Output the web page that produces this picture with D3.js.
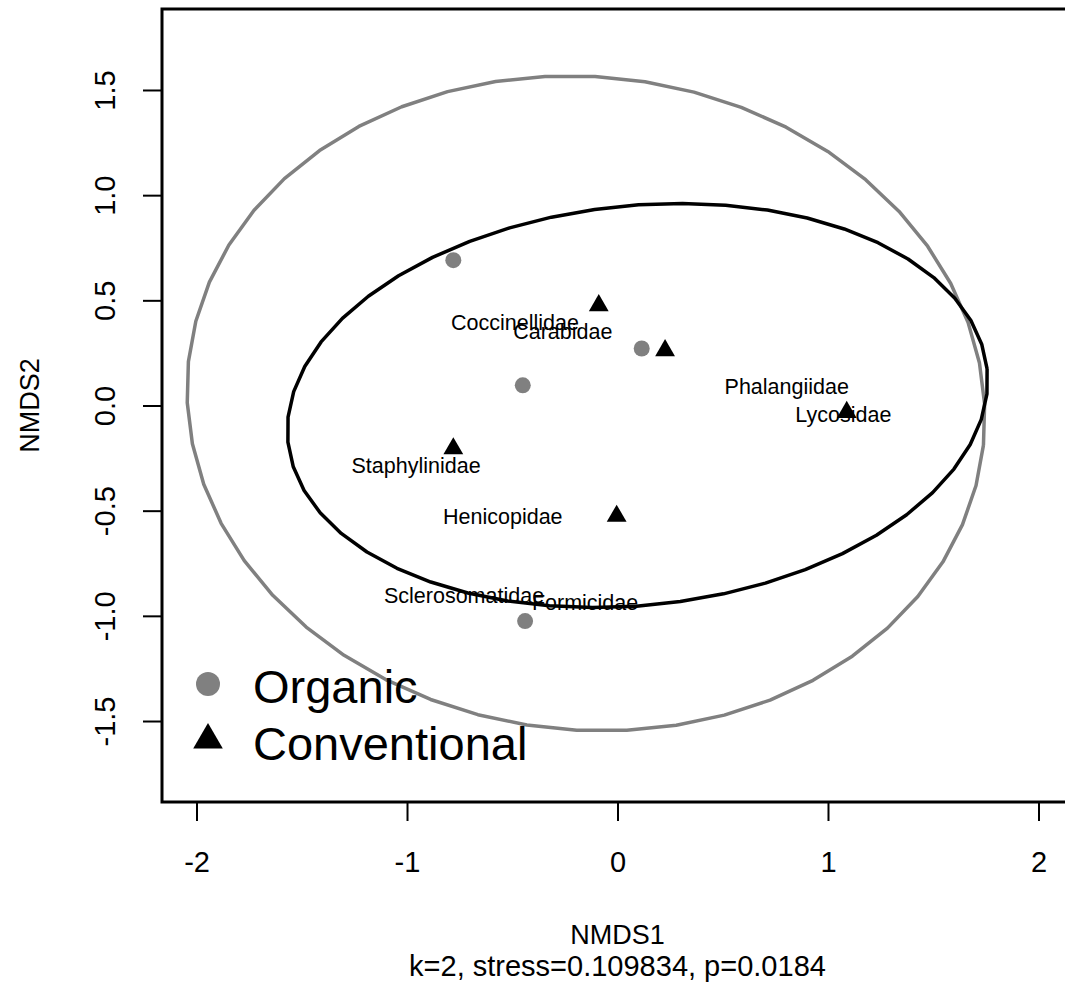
<!DOCTYPE html>
<html>
<head>
<meta charset="utf-8">
<script src="https://cdn.jsdelivr.net/npm/d3@7"></script>
<style>
  body { margin: 0; background: #fff; }
  svg { display: block; font-family: "Liberation Sans", Arial, sans-serif; }
</style>
</head>
<body>
<div id="chart"></div>
<script>
// site scores (NMDS1, NMDS2)
const organicX = [-0.780, -0.450, 0.115, -0.439];
const organicY = [0.691, 0.096, 0.271, -1.025];
const conventionalX = [-0.089, 0.226, -0.780, -0.004, 1.089];
const conventionalY = [0.480, 0.266, -0.200, -0.521, -0.027];

// family (species) scores
const familyNames = ['Coccinellidae', 'Carabidae', 'Phalangiidae', 'Lycosidae',
  'Staphylinidae', 'Henicopidae', 'Sclerosomatidae', 'Formicidae'];
const familyX = [-0.487, -0.260, 0.804, 1.073, -0.957, -0.545, -0.729, -0.154];
const familyY = [0.393, 0.350, 0.087, -0.046, -0.288, -0.531, -0.906, -0.938];

// group ellipses: centre, semi-axes, rotation (degrees)
const ellipseGroups = ['Organic', 'Conventional'];
const ellipseCx = [-0.150, 0.095];
const ellipseCy = [0.010, 0.000];
const ellipseA = [1.899, 1.670];
const ellipseB = [1.553, 0.950];
const ellipseAngle = [-6, 6];

const xTicks = [-2, -1, 0, 1, 2];
const yTicks = [-1.5, -1.0, -0.5, 0.0, 0.5, 1.0, 1.5];

const width = 1065, height = 1000;
const box = { left: 162, right: 1073, top: 9, bottom: 802 };
const grey = '#808080';

const svg = d3.select('#chart').append('svg')
  .attr('width', width)
  .attr('height', height);

const x = d3.scaleLinear().domain([-2.164, 2.164]).range([box.left, box.right]);
const y = d3.scaleLinear().domain([-1.885, 1.885]).range([box.bottom, box.top]);

// R style: plain hyphen for minus
const hyphen = f => d => f(d).replace('\u2212', '-');

// ellipses
const line = d3.line().x(d => x(d[0])).y(d => y(d[1]));
ellipseGroups.forEach((g, i) => {
  const t = ellipseAngle[i] * Math.PI / 180;
  const pts = d3.range(0, 51).map(k => {
    const u = 2 * Math.PI * k / 50;
    const ex = ellipseA[i] * Math.cos(u), ey = ellipseB[i] * Math.sin(u);
    return [ellipseCx[i] + ex * Math.cos(t) - ey * Math.sin(t),
            ellipseCy[i] + ex * Math.sin(t) + ey * Math.cos(t)];
  });
  svg.append('path')
    .attr('d', line(pts))
    .attr('fill', 'none')
    .attr('stroke', i === 0 ? grey : '#000')
    .attr('stroke-width', 3.5)
    .attr('stroke-linejoin', 'round');
});

// points
svg.append('g').selectAll('circle')
  .data(organicX)
  .join('circle')
  .attr('cx', d => x(d))
  .attr('cy', (d, i) => y(organicY[i]))
  .attr('r', 8)
  .attr('fill', grey);

const tri = d3.symbol().type(d3.symbolTriangle).size(170);
svg.append('g').selectAll('path')
  .data(conventionalX)
  .join('path')
  .attr('d', tri)
  .attr('transform', (d, i) => `translate(${x(d)},${y(conventionalY[i]) + 1})`)
  .attr('fill', '#000');

// family labels
svg.append('g').selectAll('text')
  .data(familyNames)
  .join('text')
  .attr('x', (d, i) => x(familyX[i]))
  .attr('y', (d, i) => y(familyY[i]))
  .attr('text-anchor', 'middle')
  .attr('dominant-baseline', 'central')
  .attr('font-size', 21.5)
  .attr('fill', '#000')
  .text(d => d);

// axes
const xAxis = svg.append('g')
  .attr('transform', `translate(0,${box.bottom})`)
  .call(d3.axisBottom(x).tickValues(xTicks).tickSize(19).tickPadding(30)
    .tickFormat(hyphen(d3.format('d'))));
const yAxis = svg.append('g')
  .attr('transform', `translate(${box.left},0)`)
  .call(d3.axisLeft(y).tickValues(yTicks).tickSize(19)
    .tickFormat(hyphen(d3.format('.1f'))));
[xAxis, yAxis].forEach(a => {
  a.select('.domain').remove();
  a.selectAll('line').attr('stroke', '#000').attr('stroke-width', 2);
  a.selectAll('text').attr('font-size', 29).attr('fill', '#000')
    .attr('font-family', '"Liberation Sans", Arial, sans-serif');
});
yAxis.selectAll('text')
  .attr('x', 0).attr('y', 0).attr('dy', null)
  .attr('text-anchor', 'middle')
  .attr('dominant-baseline', 'central')
  .attr('transform', 'translate(-57,0) rotate(-90)');
xAxis.selectAll('text').attr('dy', '0.71em');

// plot box
svg.append('rect')
  .attr('x', box.left).attr('y', box.top)
  .attr('width', box.right - box.left).attr('height', box.bottom - box.top)
  .attr('fill', 'none').attr('stroke', '#000').attr('stroke-width', 3);

// titles
const midX = (box.left + box.right) / 2;
svg.append('text')
  .attr('x', midX).attr('y', 935)
  .attr('text-anchor', 'middle').attr('dominant-baseline', 'central')
  .attr('font-size', 27).text('NMDS1');
svg.append('text')
  .attr('x', midX).attr('y', 966)
  .attr('text-anchor', 'middle').attr('dominant-baseline', 'central')
  .attr('font-size', 29).text('k=2, stress=0.109834, p=0.0184');
svg.append('text')
  .attr('transform', `translate(30,${(box.top + box.bottom) / 2}) rotate(-90)`)
  .attr('text-anchor', 'middle').attr('dominant-baseline', 'central')
  .attr('font-size', 27).text('NMDS2');

// legend
const legend = svg.append('g');
legend.append('circle').attr('cx', 208).attr('cy', 684).attr('r', 12).attr('fill', grey);
legend.append('path')
  .attr('d', d3.symbol().type(d3.symbolTriangle).size(380))
  .attr('transform', 'translate(208,740)')
  .attr('fill', '#000');
legend.selectAll('text')
  .data(ellipseGroups)
  .join('text')
  .attr('x', 253)
  .attr('y', (d, i) => 686 + i * 57)
  .attr('dominant-baseline', 'central')
  .attr('font-size', 47)
  .text(d => d);
</script>
</body>
</html>
